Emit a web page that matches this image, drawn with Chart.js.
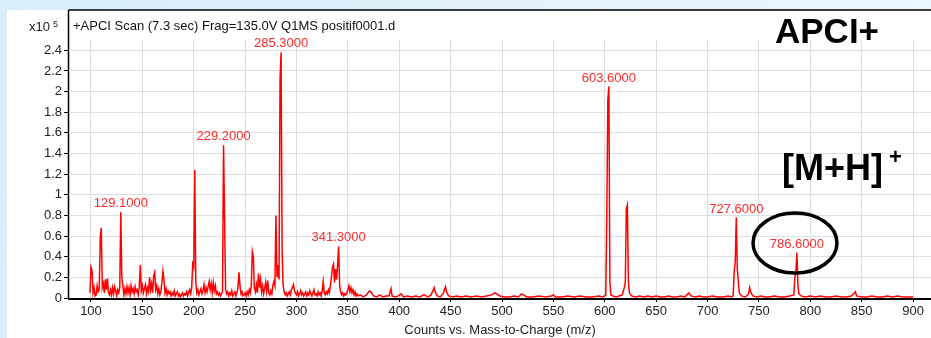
<!DOCTYPE html>
<html>
<head>
<meta charset="utf-8">
<script src="https://cdn.jsdelivr.net/npm/chart.js@4.4.0/dist/chart.umd.min.js"></script>
<style>
html, body { margin: 0; padding: 0; background: #e4f2fc; }
#wrap { width: 931px; height: 338px; }
</style>
</head>
<body>
<div id="wrap"><canvas id="msChart" width="931" height="338"></canvas></div>
<script>
// Spectre APCI+ : m/z et intensites (en x10^5 counts)
var mz = [
    99,100,101,102,103,104,105,106,107,108,
    109,110,111,112,113,114,115,116,117,118,
    119,120,121,122,123,124,125,126,127,128,
    129,130,131,132,133,134,135,136,137,138,
    139,140,141,142,143,144,145,146,147,148,
    149,150,151,152,153,154,155,156,157,158,
    159,160,161,162,163,164,165,166,167,168,
    169,170,171,172,173,174,175,176,177,178,
    179,180,181,182,183,184,185,186,187,188,
    189,190,191,192,193,194,195,196,197,198,
    199,200,201,202,203,204,205,206,207,208,
    209,210,211,212,213,214,215,216,217,218,
    219,220,221,222,223,224,225,226,227,228,
    229,230,231,232,233,234,235,236,237,238,
    239,240,241,242,243,244,245,246,247,248,
    249,250,251,252,253,254,255,256,257,258,
    259,260,261,262,263,264,265,266,267,268,
    269,270,271,272,273,274,275,276,277,278,
    279,280,281,282,283,284,285,286,287,288,
    289,290,291,292,293,294,295,296,297,298,
    299,300,301,302,303,304,305,306,307,308,
    309,310,311,312,313,314,315,316,317,318,
    319,320,321,322,323,324,325,326,327,328,
    329,330,331,332,333,334,335,336,337,338,
    339,340,341,342,343,344,345,346,347,348,
    349,350,351,352,353,354,355,356,357,358,
    359,360,
    362,365,368,371,373,375,378,381,384,387,
    390,392,393,396,399,402,404,408,412,416,
    420,424,428,431,434,435,437,440,443,445,
    446,448,452,456,460,465,470,475,480,485,
    490,493,495,498,502,507,512,516,519,521,
    524,530,536,542,548,550,552,558,564,570,
    576,582,588,594,598,600,601,602,603,604,
    605,606,608,611,614,617,619,620,621,622,
    623,624,626,630,634,638,642,646,650,654,
    658,662,666,670,674,678,680,682,684,688,
    692,696,700,705,710,715,720,724,725,726,
    727,728,729,730,731,733,737,740,741,742,
    744,748,752,756,760,765,770,775,780,784,
    785,786,787,788,789,791,795,800,805,810,
    815,820,825,830,835,840,844,845,850,855,
    860,865,870,875,880,885,890,895,900
];
var counts = [
    0.05,0.30,0.27,0.05,0.10,0.02,0.03,0.12,0.06,0.08,
    0.58,0.68,0.10,0.14,0.05,0.18,0.08,0.19,0.05,0.03,
    0.08,0.03,0.10,0.04,0.11,0.07,0.02,0.08,0.05,0.10,
    0.83,0.20,0.12,0.03,0.09,0.04,0.11,0.05,0.10,0.03,
    0.12,0.06,0.09,0.04,0.11,0.06,0.08,0.03,0.10,0.32,
    0.07,0.12,0.05,0.09,0.13,0.04,0.10,0.06,0.20,0.08,
    0.14,0.05,0.22,0.25,0.08,0.12,0.04,0.09,0.03,0.06,
    0.15,0.26,0.18,0.05,0.09,0.03,0.07,0.04,0.06,0.02,
    0.05,0.03,0.07,0.02,0.04,0.06,0.02,0.04,0.01,0.03,
    0.05,0.02,0.04,0.03,0.06,0.02,0.05,0.08,0.04,0.10,
    0.33,0.30,1.24,0.15,0.05,0.08,0.03,0.06,0.09,0.04,
    0.07,0.13,0.05,0.10,0.06,0.11,0.16,0.08,0.14,0.05,
    0.15,0.07,0.12,0.04,0.06,0.03,0.05,0.02,0.04,0.06,
    1.48,0.79,0.08,0.04,0.06,0.02,0.05,0.03,0.07,0.02,
    0.04,0.06,0.02,0.05,0.10,0.25,0.12,0.04,0.06,0.02,
    0.03,0.05,0.02,0.06,0.03,0.08,0.05,0.12,0.45,0.40,
    0.10,0.06,0.13,0.05,0.24,0.10,0.18,0.06,0.12,0.04,
    0.09,0.15,0.06,0.17,0.05,0.03,0.07,0.04,0.12,0.16,
    0.12,0.80,0.20,0.32,0.18,2.12,2.38,0.47,0.12,0.06,
    0.03,0.05,0.02,0.04,0.06,0.03,0.08,0.10,0.13,0.07,
    0.05,0.03,0.06,0.02,0.04,0.07,0.03,0.05,0.02,0.04,
    0.06,0.02,0.05,0.03,0.07,0.04,0.02,0.05,0.08,0.03,
    0.04,0.02,0.06,0.03,0.05,0.02,0.07,0.16,0.05,0.03,
    0.06,0.04,0.08,0.05,0.12,0.20,0.30,0.33,0.15,0.28,
    0.18,0.32,0.50,0.12,0.06,0.03,0.05,0.02,0.04,0.03,
    0.05,0.08,0.12,0.06,0.10,0.05,0.08,0.03,0.06,0.02,
    0.04,0.02,
    0.03,0.01,0.03,0.07,0.05,0.02,0.01,0.03,0.01,0.02,
    0.02,0.09,0.02,0.01,0.02,0.04,0.01,0.02,0.01,0.02,
    0.01,0.03,0.01,0.03,0.10,0.06,0.02,0.01,0.05,0.11,
    0.06,0.02,0.01,0.02,0.01,0.02,0.01,0.02,0.01,0.02,
    0.03,0.05,0.04,0.02,0.01,0.01,0.02,0.01,0.04,0.03,
    0.01,0.01,0.02,0.01,0.02,0.03,0.01,0.01,0.02,0.01,
    0.02,0.01,0.01,0.02,0.01,0.02,0.03,0.82,1.92,2.05,
    0.15,0.03,0.02,0.01,0.02,0.03,0.10,0.15,0.86,0.90,
    0.16,0.05,0.02,0.01,0.02,0.01,0.02,0.01,0.02,0.01,
    0.01,0.02,0.01,0.01,0.02,0.01,0.03,0.05,0.02,0.01,
    0.02,0.01,0.01,0.02,0.01,0.01,0.02,0.01,0.03,0.26,
    0.35,0.78,0.28,0.15,0.05,0.02,0.01,0.04,0.10,0.06,
    0.02,0.01,0.02,0.01,0.01,0.02,0.01,0.01,0.02,0.03,
    0.20,0.25,0.44,0.12,0.04,0.02,0.01,0.02,0.01,0.02,
    0.01,0.01,0.02,0.01,0.01,0.02,0.06,0.02,0.01,0.01,
    0.02,0.01,0.01,0.02,0.01,0.02,0.01,0.01,0.01
];

// Pics annotes
var peakLabels = [129.1, 229.2, 285.3, 341.3, 603.6, 727.6, 786.6];

// Graduations
var xTicks = [100,150,200,250,300,350,400,450,500,550,600,650,700,750,800,850,900];
var yTicks = [0,0.2,0.4,0.6,0.8,1,1.2,1.4,1.6,1.8,2,2.2,2.4];

var fontFamily = "'Liberation Sans', Arial, sans-serif";

// Fond bleu + panneau blanc
var fondPlugin = {
    id: 'fond',
    beforeDraw: function(chart) {
        var ctx = chart.ctx;
        ctx.save();
        var grad = ctx.createLinearGradient(0, 0, chart.width, chart.height);
        grad.addColorStop(0, '#d9edfb');
        grad.addColorStop(1, '#eef7fd');
        ctx.fillStyle = grad;
        ctx.fillRect(0, 0, chart.width, chart.height);
        ctx.fillStyle = '#ffffff';
        ctx.fillRect(7, 10, chart.width - 7, chart.height - 10);
        ctx.restore();
    }
};

// Cadre, textes et etiquettes des pics
var annotPlugin = {
    id: 'annot',
    afterDraw: function(chart) {
        var ctx = chart.ctx;
        var xs = chart.scales.x, ys = chart.scales.y;
        var area = chart.chartArea;
        ctx.save();

        // cadre
        ctx.strokeStyle = '#000';
        ctx.lineWidth = 1.5;
        ctx.beginPath();
        ctx.moveTo(area.left - 0.5, 10);
        ctx.lineTo(chart.width, 10);
        ctx.moveTo(area.left - 0.5, 10);
        ctx.lineTo(area.left - 0.5, area.bottom + 1);
        ctx.stroke();
        ctx.lineWidth = 2;
        ctx.beginPath();
        ctx.moveTo(area.left - 1, area.bottom + 1);
        ctx.lineTo(chart.width, area.bottom + 1);
        ctx.stroke();

        // en-tete
        ctx.fillStyle = '#111';
        ctx.font = '13px ' + fontFamily;
        ctx.textAlign = 'left';
        ctx.textBaseline = 'alphabetic';
        ctx.fillText('+APCI Scan (7.3 sec) Frag=135.0V Q1MS positif0001.d', 73, 30);
        ctx.fillStyle = '#222';
        ctx.fillText('x10', 29, 31);
        ctx.font = '9px ' + fontFamily;
        ctx.fillText('5', 53, 27);

        // etiquettes des pics
        ctx.fillStyle = '#ff2a2a';
        ctx.font = '13px ' + fontFamily;
        ctx.textAlign = 'center';
        ctx.textBaseline = 'bottom';
        peakLabels.forEach(function(label) {
            var best = -1;
            mz.forEach(function(m, i) {
                if (Math.abs(m - label) <= 1.5 && (best < 0 || counts[i] > counts[best])) best = i;
            });
            var px = xs.getPixelForValue(mz[best]);
            var py = ys.getPixelForValue(counts[best]);
            ctx.fillText(label.toFixed(4), px, py - 2);
        });

        // APCI+ et [M+H]+
        ctx.fillStyle = '#000';
        ctx.textAlign = 'left';
        ctx.textBaseline = 'alphabetic';
        ctx.font = 'bold 35px ' + fontFamily;
        ctx.fillText('APCI+', 775, 43);
        ctx.font = 'bold 36px ' + fontFamily;
        ctx.fillText('[M+H]', 782, 180);
        ctx.font = 'bold 22px ' + fontFamily;
        ctx.textBaseline = 'middle';
        ctx.fillText('+', 889, 158);

        // ellipse autour de 786.6
        ctx.lineWidth = 3.5;
        ctx.beginPath();
        ctx.ellipse(795, 243, 42, 30, 0, 0, Math.PI * 2);
        ctx.stroke();

        ctx.restore();
    }
};

var ctx = document.getElementById('msChart').getContext('2d');
var msChart = new Chart(ctx, {
    type: 'line',
    data: {
        datasets: [{
            data: mz.map(function(m, i) { return { x: m, y: counts[i] }; }),
            borderColor: '#ff0000',
            borderWidth: 1.5,
            pointRadius: 0,
            tension: 0,
            fill: false
        }]
    },
    options: {
        responsive: false,
        animation: false,
        devicePixelRatio: 1,
        layout: { padding: { top: 40, left: 0, right: 0, bottom: 0 } },
        plugins: {
            legend: { display: false },
            tooltip: { enabled: false }
        },
        scales: {
            x: {
                type: 'linear',
                min: 78.6,
                max: 917.5,
                afterFit: function(scale) { scale.height = 40; },
                afterBuildTicks: function(scale) {
                    scale.ticks = xTicks.map(function(v) { return { value: v }; });
                },
                grid: { color: '#dedede', tickColor: '#000', tickLength: 4 },
                border: { display: false },
                ticks: {
                    color: '#222',
                    font: { family: fontFamily, size: 13 },
                    padding: 2,
                    maxRotation: 0,
                    autoSkip: false
                },
                title: {
                    display: true,
                    text: 'Counts vs. Mass-to-Charge (m/z)',
                    color: '#222',
                    font: { family: fontFamily, size: 13 },
                    padding: { top: 0, bottom: 0 }
                }
            },
            y: {
                min: 0,
                max: 2.5,
                afterFit: function(scale) { scale.width = 69; },
                afterBuildTicks: function(scale) {
                    scale.ticks = yTicks.map(function(v) { return { value: v }; });
                },
                grid: { color: '#dedede', tickColor: '#000', tickLength: 5 },
                border: { display: false },
                ticks: {
                    color: '#222',
                    font: { family: fontFamily, size: 13 },
                    padding: 2,
                    callback: function(v) { return String(Math.round(v * 10) / 10); }
                }
            }
        }
    },
    plugins: [fondPlugin, annotPlugin]
});
</script>
</body>
</html>
